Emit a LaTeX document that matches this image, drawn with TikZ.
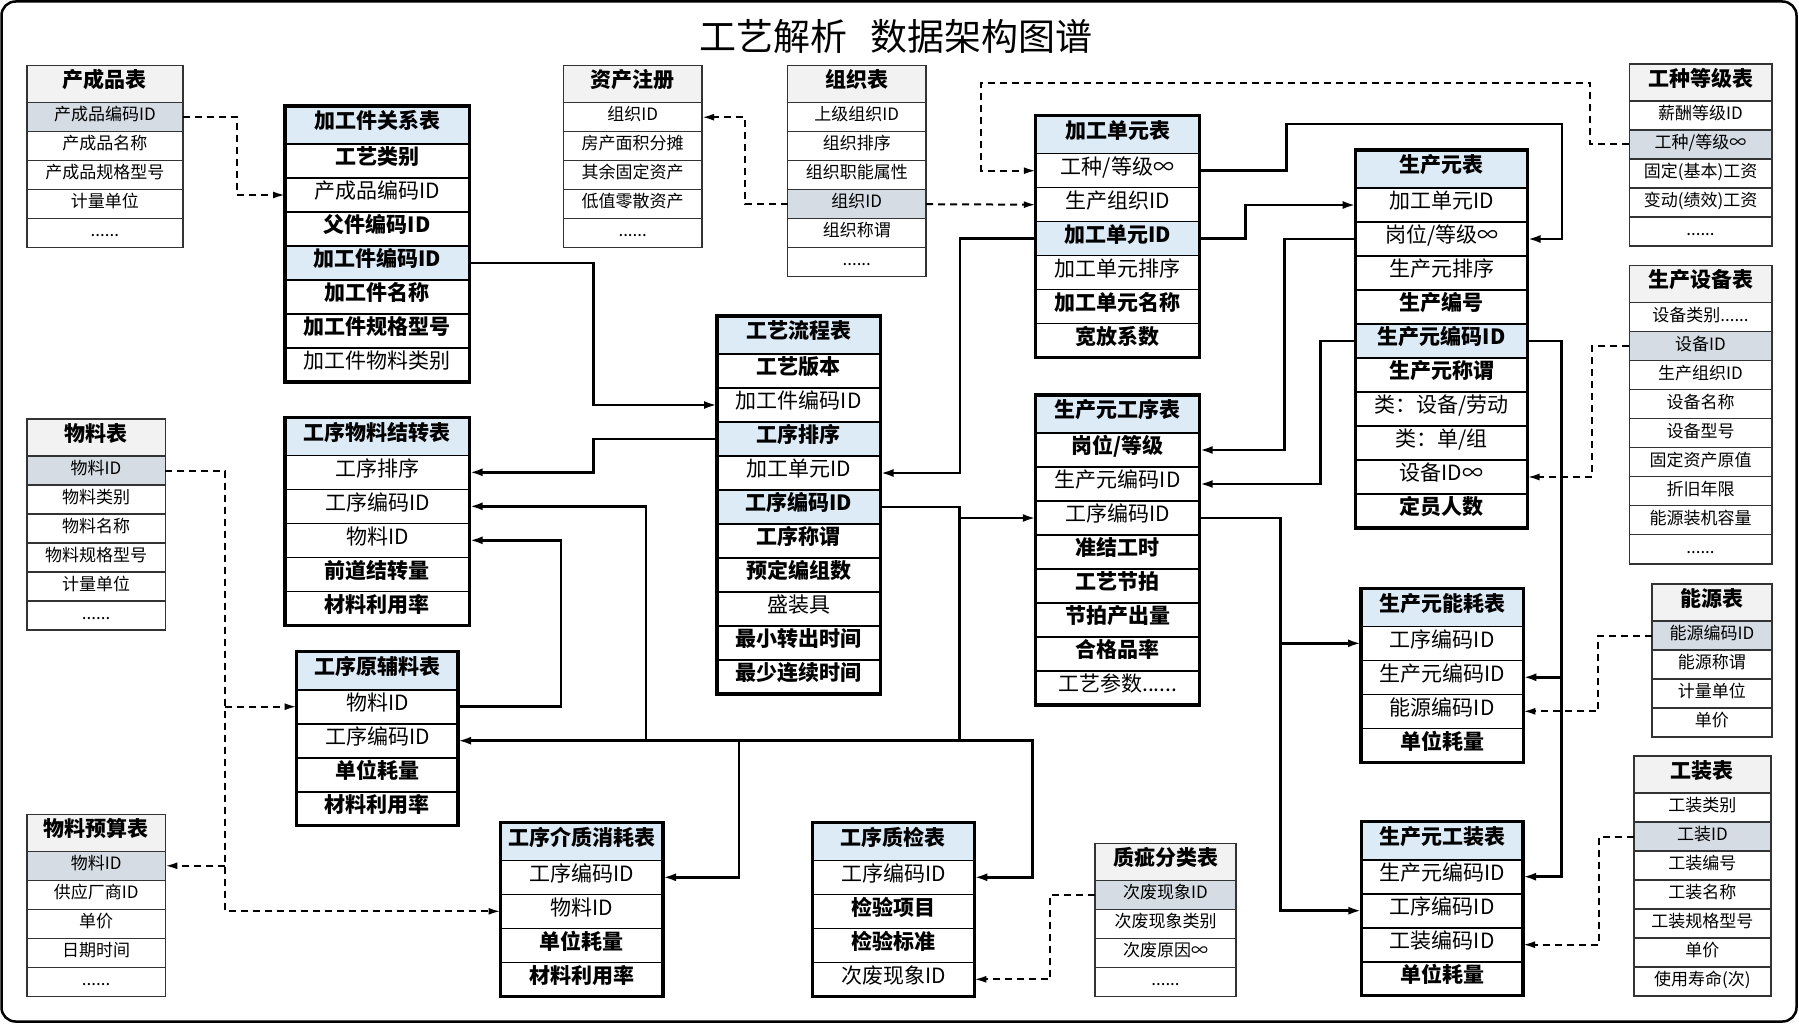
\documentclass[tikz,border=0pt]{standalone}
\usepackage{fontspec}
\setmainfont{Noto Sans CJK SC}
\usetikzlibrary{arrows.meta,calc,positioning}

\definecolor{headgray}{HTML}{F2F2F2}
\definecolor{keygray}{HTML}{D6DCE4}
\definecolor{keyblue}{HTML}{DDEBF7}
\definecolor{cellline}{HTML}{333333}

\newcommand{\moredots}{......}

\tikzset{
  cell/.style={draw,outer sep=0pt,inner sep=0pt,anchor=north,text height=0.83em,text depth=0.07em},
  bcell/.style={cell,draw=cellline,line width=1.2pt,minimum height=29pt,font=\fontsize{17}{20}\selectfont},
  bhead/.style={bcell,fill=headgray,minimum height=37pt,font=\fontsize{21}{25}\selectfont\bfseries},
  bn/.style={bcell,fill=white},
  bk/.style={bcell,fill=keygray},
  mcell/.style={cell,draw=black,line width=1.6pt,minimum height=34pt,font=\fontsize{21}{25}\selectfont},
  mhead/.style={mcell,fill=keyblue,minimum height=38pt,font=\fontsize{21}{25}\selectfont\bfseries},
  mn/.style={mcell,fill=white},
  mb/.style={mcell,fill=white,font=\fontsize{21}{25}\selectfont\bfseries},
  mk/.style={mb,fill=keyblue},
  bframe/.style={draw=cellline,line width=1.6pt},
  mframe/.style={draw=black,line width=3.2pt},
  link/.style={draw=black,line width=2.6pt,-{Latex[length=13pt,width=8pt]}},
  dlink/.style={draw=black,line width=2pt,dash pattern=on 7pt off 5pt,-{Latex[length=12pt,width=7pt]}},
}

% one table: name, kind (b/m), top left, width, title, rows
\newcommand{\dbtable}[6]{%
  \node[#2head,minimum width=#4pt,anchor=north west] (#1-0) at (#3) {#5};
  \foreach \cellsty/\celltxt [count=\i] in {#6} {
    \pgfmathtruncatemacro{\j}{\i-1}
    \node[\cellsty,minimum width=#4pt,below=0pt of #1-\j] (#1-\i) {\celltxt};
    \xdef\lastrow{\i}
  }
  \draw[#2frame] (#1-0.north west) rectangle (#1-\lastrow.south east);
}

\begin{document}
\begin{tikzpicture}[x=1pt,y=-1pt,>=Latex]
  \useasboundingbox (0,0) rectangle (1799,1024);
  \draw[line width=2.5pt,rounded corners=14pt] (1.5,1.5) rectangle (1796.5,1021.5);
  \node[font=\fontsize{37}{44}\selectfont] (title) at (896,36) {工艺解析\hspace{0.6em}数据架构图谱};

  % base tables
  \dbtable{cp}{b}{26.8,65.7}{156.2}{产成品表}{bk/产成品编码ID,bn/产成品名称,bn/产成品规格型号,bn/计量单位,bn/\moredots}
  \dbtable{zc}{b}{563.3,65.7}{138.8}{资产注册}{bn/组织ID,bn/房产面积分摊,bn/其余固定资产,bn/低值零散资产,bn/\moredots}
  \dbtable{zz}{b}{787.5,65.7}{138.5}{组织表}{bn/上级组织ID,bn/组织排序,bn/组织职能属性,bk/组织ID,bn/组织称谓,bn/\moredots}
  \dbtable{gz}{b}{1629.3,64}{142.4}{工种等级表}{bn/薪酬等级ID,bk/{工种/等级∞},bn/固定(基本)工资,bn/变动(绩效)工资,bn/\moredots}
  \dbtable{sb}{b}{1629.3,265.7}{142.4}{生产设备表}{bn/设备类别\moredots,bk/设备ID,bn/生产组织ID,bn/设备名称,bn/设备型号,bn/固定资产原值,bn/折旧年限,bn/能源装机容量,bn/\moredots}
  \dbtable{wl}{b}{26.8,419}{138.5}{物料表}{bk/物料ID,bn/物料类别,bn/物料名称,bn/物料规格型号,bn/计量单位,bn/\moredots}
  \dbtable{ny}{b}{1652,584}{119.7}{能源表}{bk/能源编码ID,bn/能源称谓,bn/计量单位,bn/单价}
  \dbtable{gzb}{b}{1633.7,756}{137.3}{工装表}{bn/工装类别,bk/工装ID,bn/工装编号,bn/工装名称,bn/工装规格型号,bn/单价,bn/使用寿命(次)}
  \dbtable{ys}{b}{27,814.3}{138.3}{物料预算表}{bk/物料ID,bn/供应厂商ID,bn/单价,bn/日期时间,bn/\moredots}
  \dbtable{zb}{b}{1095,843.3}{141}{质疵分类表}{bk/次废现象ID,bn/次废现象类别,bn/次废原因∞,bn/\moredots}

  % main tables
  \dbtable{gx}{m}{285,106}{184.6}{加工件关系表}{mb/工艺类别,mn/产成品编码ID,mb/父件编码ID,mk/加工件编码ID,mb/加工件名称,mb/加工件规格型号,mn/加工件物料类别}
  \dbtable{wz}{m}{285,417.3}{184.6}{工序物料结转表}{mn/工序排序,mn/工序编码ID,mn/物料ID,mb/前道结转量,mb/材料利用率}
  \dbtable{fl}{m}{296.6,651.7}{161.4}{工序原辅料表}{mn/物料ID,mn/工序编码ID,mb/单位耗量,mb/材料利用率}
  \dbtable{jz}{m}{500.5,822.3}{162.5}{工序介质消耗表}{mn/工序编码ID,mn/物料ID,mb/单位耗量,mb/材料利用率}
  \dbtable{lc}{m}{717,316}{163.5}{工艺流程表}{mb/工艺版本,mn/加工件编码ID,mk/工序排序,mn/加工单元ID,mk/工序编码ID,mb/工序称谓,mb/预定编组数,mn/盛装具,mb/最小转出时间,mb/最少连续时间}
  \dbtable{zj}{m}{812.3,822.3}{162}{工序质检表}{mn/工序编码ID,mb/检验项目,mb/检验标准,mn/次废现象ID}
  \dbtable{dy}{m}{1035.8,115.7}{163.5}{加工单元表}{mn/{工种/等级∞},mn/生产组织ID,mk/加工单元ID,mn/加工单元排序,mb/加工单元名称,mb/宽放系数}
  \dbtable{sg}{m}{1035.8,395}{163.9}{生产元工序表}{mb/{岗位/等级},mn/生产元编码ID,mn/工序编码ID,mb/准结工时,mb/工艺节拍,mb/节拍产出量,mb/合格品率,mn/工艺参数\moredots}
  \dbtable{sc}{m}{1355.7,150}{171.8}{生产元表}{mn/加工单元ID,mn/{岗位/等级∞},mn/生产元排序,mb/生产编号,mk/生产元编码ID,mb/生产元称谓,mn/{类：设备/劳动},mn/{类：单/组},mn/设备ID∞,mb/定员人数}
  \dbtable{nh}{m}{1361,588.3}{162.3}{生产元能耗表}{mn/工序编码ID,mn/生产元编码ID,mn/能源编码ID,mb/单位耗量}
  \dbtable{gzz}{m}{1361.4,821.7}{161.6}{生产元工装表}{mn/生产元编码ID,mn/工序编码ID,mn/工装编码ID,mb/单位耗量}

  % dashed links
  \draw[dlink] (cp-1.east) -- ++(54,0) |- (gx-2.west);
  \draw[dlink] (zz-4.west) -- ++(-43,0) |- (zc-1.east);
  \draw[dlink] (zz-4.east) -- (dy-2.west);
  \draw[dlink] (gz-2.west) -- ++(-39,0) |- (981,83) |- (dy-1.west);
  \draw[dlink] (sb-2.west) -- ++(-37,0) |- (sc-9.east);
  \draw[dlink] (ny-1.west) -- ++(-54,0) |- (nh-3.east);
  \draw[dlink] (gzb-2.west) -- ++(-35,0) |- (gzz-3.east);
  \draw[dlink] (zb-1.west) -- ++(-45,0) |- (zj-4.east);
  \draw[dlink] (wl-1.east) -- ++(60,0) coordinate (wlbus) |- (jz-2.west);
  \draw[dlink] (wlbus |- fl-1.west) -- (fl-1.west);
  \draw[dlink] (wlbus |- ys-1.east) -- (ys-1.east);

  % solid links
  \draw[link] (gx-4.east) -- ++(124,0) |- (lc-2.west);
  \draw[link] (lc-3.west) -- ++(-123.5,0) |- (wz-1.east);
  \draw[link] (fl-1.east) -- ++(103,0) |- (wz-3.east);
  \draw[link] (dy-3.west) -- ++(-76,0) |- (lc-4.east);
  \draw[link] (dy-3.east) -- ++(46,0) |- (sc-1.west);
  \draw[link] (dy-1.east) -- ++(87,0) |- (1562,124) |- (sc-2.east);
  \draw[link] (sc-2.west) -- ++(-71,0) |- (sg-1.east);
  \draw[link] (sc-5.west) -- ++(-35,0) |- (sg-2.east);
  \draw[link] (sc-5.east) -- ++(34,0) coordinate (scbus) |- (gzz-1.east);
  \draw[link] (scbus |- nh-2.east) -- (nh-2.east);
  \draw[link] (lc-5.east) -- ++(79,0) coordinate (lcbus) |- (fl-2.east);
  \draw[link] (lcbus |- sg-3.west) -- (sg-3.west);
  \draw[link] ($(fl-2.east)+(188,0)$) |- (wz-2.east);
  \draw[link] ($(fl-2.east)+(281,0)$) |- (jz-1.east);
  \draw[link] (lcbus |- fl-2.east) -- ++(73,0) |- (zj-1.east);
  \draw[link] (sg-3.east) -- ++(81,0) coordinate (sgbus) |- (gzz-2.west);
  \draw[link] (sgbus |- nh-1.west) -- (nh-1.west);
\end{tikzpicture}
\end{document}
